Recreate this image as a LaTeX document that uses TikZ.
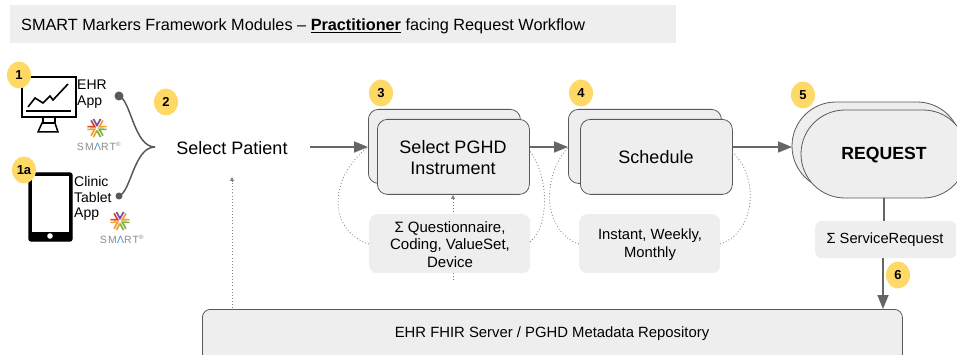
\documentclass[tikz,border=0pt]{standalone}
\usepackage{fontspec}
\setmainfont{Liberation Sans}
\usetikzlibrary{arrows.meta,shapes.geometric}
\definecolor{boxfill}{HTML}{EEEEEE}
\definecolor{edge}{HTML}{595959}
\definecolor{line}{HTML}{666666}
\definecolor{badgec}{HTML}{FFD966}
\definecolor{logoA}{HTML}{7B4FA0}
\definecolor{logoB}{HTML}{D8432F}
\definecolor{logoC}{HTML}{F0A030}
\definecolor{logoE}{HTML}{7FB241}
\definecolor{logoF}{HTML}{4A90C8}
\definecolor{logotext}{HTML}{8C8C8C}
\newcommand{\smartlogo}[3]{%
  \begin{scope}[shift={(#1,#2)}]
    \foreach \a/\c in {90/A,30/C,330/E,210/C,150/B}{
      \draw[line width=1.7pt,color=logo\c,rotate=\a] (9,3.6) -- (2.6,0) -- (9,-3.6);
    }
    \draw[line width=1.7pt,color=logoC,rotate=270] (9,3.6) -- (2.6,0);
    \draw[line width=1.7pt,color=logoE,rotate=270] (2.6,0) -- (9,-3.6);
  \end{scope}
  \node[smarttext] (#3) at (#1+2,#2+18) {SM\textcolor{logoF}{Λ}RT\textsuperscript{\fontsize{6}{6}\selectfont ®}};
}
\tikzset{
  x=1pt,y=-1pt,
  smalltxt/.style={align=center,text=black,inner sep=0pt},
  lefttxt/.style={font=\fontsize{14}{15.7}\selectfont,align=left,text=black,inner sep=0pt,anchor=north west},
  smarttext/.style={font=\fontsize{10.5}{10.5}\addfontfeature{LetterSpace=12}\selectfont,text=logotext,inner sep=0pt},
  stack/.style={draw=edge,line width=0.8pt,fill=boxfill,rounded corners=10pt},
  pale/.style={fill=boxfill,rounded corners=8pt},
  badge/.style={ellipse,fill=badgec,minimum width=24pt,minimum height=27pt,inner sep=0pt,font=\fontsize{13}{13}\bfseries\selectfont},
  flow/.style={draw=line,line width=1.7pt,-{Triangle[length=14pt,width=11pt]}},
  dots/.style={draw=gray,line width=0.8pt,dash pattern=on 0.9pt off 2.2pt},
  dotarrow/.style={dots,-{Triangle[length=4pt,width=4pt]}},
}
\begin{document}
\begin{tikzpicture}
\useasboundingbox (0,0) rectangle (957,355);
\clip (0,0) rectangle (957,355);

% title
\fill[boxfill] (10,5) rectangle (676,43);
\node[anchor=west,inner sep=0pt,font=\fontsize{16.25}{19}\selectfont] (title) at (21,26)
  {SMART Markers Framework Modules – \textbf{\underline{Practitioner}} facing Request Workflow};

% monitor
\draw[black,line width=2pt,fill=white] (22,77) rectangle (76,117);
\draw[black,line width=1.6pt] (26,111) -- (71,111);
\draw[black,line width=1.6pt] (28,107) -- (35,98) -- (43,103) -- (50,96) -- (53,100) -- (68,84);
\draw[black,line width=1.5pt] (43,118) -- (43,123) -- (55,123) -- (55,118);
\draw[black,line width=1.5pt] (38,132) -- (42,123) -- (55,123) -- (58,132) -- cycle;
\node[lefttxt] (ehrapp) at (77,80) {EHR\\App};

% tablet
\draw[black,line width=1.2pt,fill=black,rounded corners=2pt] (29,173) rectangle (72,241);
\fill[white] (32,176) rectangle (69,232);
\fill[white] (50,236) circle (2.8);
\node[lefttxt] (clinic) at (74,176) {Clinic\\Tablet\\App};

% logos
\smartlogo{97}{128}{smartA}
\smartlogo{120}{221}{smartB}

% curly connector
\coordinate (tip) at (155,147);
\node[circle,fill=edge,minimum size=9pt,inner sep=0pt] (dotA) at (119,96) {};
\node[circle,fill=edge,minimum size=7pt,inner sep=0pt] (dotB) at (119,196) {};
\draw[edge,line width=1.5pt] (dotA.center) .. controls (131,100) and (134,147) .. (tip);
\draw[edge,line width=1.5pt] (dotB.center) .. controls (131,192) and (134,147) .. (tip);

\node[font=\fontsize{18}{21}\selectfont,inner sep=0pt] (patient) at (232,148) {Select Patient};

% repository
\node[draw=edge,line width=0.8pt,fill=boxfill,rounded corners=8pt,minimum width=700pt,minimum height=60pt,anchor=north west,inner sep=0pt] (ehr) at (202,309) {};
\node[smalltxt,font=\fontsize{14.85}{17}\selectfont] (ehrlabel) at (552,334) {EHR FHIR Server / PGHD Metadata Repository};

% dotted arrows
\coordinate (sigin) at (453,280);
\coordinate (patin) at (232,177);
\coordinate (patfoot) at (232,308);
\draw[dotarrow] (patfoot) -- (patin);
\draw[dotarrow] (sigin) -- (453,195);

% stacks
\node[stack,minimum width=152pt,minimum height=74pt,anchor=north west,inner sep=0pt] (b3) at (368,109) {};
\node[stack,minimum width=152pt,minimum height=75pt,anchor=north west,inner sep=0pt] (f3) at (377,119) {};
\node[smalltxt,font=\fontsize{18}{21.5}\selectfont] (t3) at (453,157.5) {Select PGHD\\Instrument};
\node[stack,minimum width=153pt,minimum height=74pt,anchor=north west,inner sep=0pt] (b4) at (568,109) {};
\node[stack,minimum width=152pt,minimum height=75pt,anchor=north west,inner sep=0pt] (f4) at (580,119) {};
\node[smalltxt,font=\fontsize{18}{21}\selectfont] (t4) at (656,157) {Schedule};
\draw[stack,rounded corners=43.9pt] (792,102) rectangle (961,190);
\draw[stack,rounded corners=43.9pt] (801,110) rectangle (967,198);
\node[font=\fontsize{17.6}{20}\bfseries\selectfont,inner sep=0pt] (t5) at (884,155) {REQUEST};

% pale boxes
\node[pale,minimum width=161pt,minimum height=59pt,anchor=north west,inner sep=0pt] (s3) at (369,214) {};
\node[smalltxt,font=\fontsize{15}{17.6}\selectfont] (s3t) at (450,244.5) {Σ Questionnaire,\\Coding, ValueSet,\\Device};
\node[pale,minimum width=141pt,minimum height=59pt,anchor=north west,inner sep=0pt] (s4) at (579,214) {};
\node[smalltxt,font=\fontsize{14.8}{18}\selectfont] (s4t) at (650,244.5) {Instant, Weekly,\\Monthly};
\node[fill=boxfill,rounded corners=6pt,minimum width=141pt,minimum height=37pt,anchor=north west,inner sep=0pt] (s5) at (815,221) {};
\node[smalltxt,font=\fontsize{14.7}{17}\selectfont] (s5t) at (885,240) {Σ ServiceRequest};

\draw[dots] (369,244) .. controls (330,232) and (326,180) .. (368,147);
\draw[dots] (530,242) .. controls (550,225) and (549,175) .. (529,150);
\draw[dots] (579,244) .. controls (544,232) and (540,180) .. (568,147);
\draw[dots] (720,244) .. controls (757,232) and (759,175) .. (732,152);

% flow arrows
\coordinate (patout) at (310,147);
\draw[flow] (patout) -- (b3.west |- patout);
\draw[flow] (f3.east |- patout) -- (b4.west |- patout);
\draw[flow] (f4.east |- patout) -- (792,147);
\draw[draw=line,line width=1.7pt] (884,198) -- (884,221);
\draw[flow] (883,258) -- (883,309);

% badges
\node[badge] (n1) at (19,75) {1};
\node[badge] (n1a) at (24,170) {1a};
\node[badge] (n2) at (166,102) {2};
\node[badge] (n3) at (381,93) {3};
\node[badge] (n4) at (581,93) {4};
\node[badge] (n5) at (803,95) {5};
\node[badge] (n6) at (898,275) {6};
\end{tikzpicture}
\end{document}
